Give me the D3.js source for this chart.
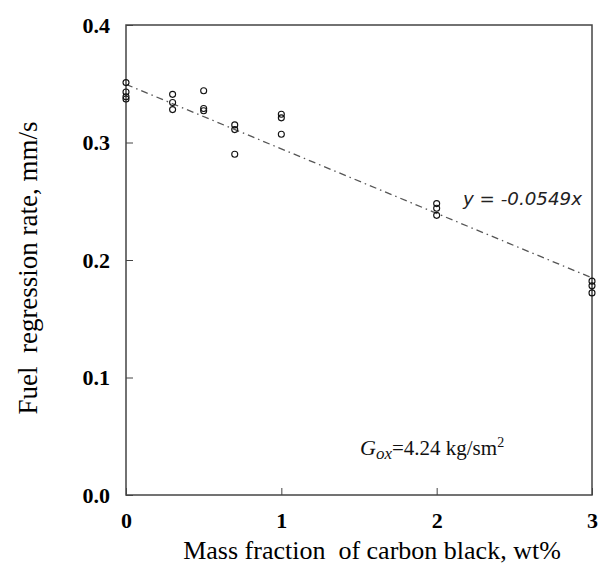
<!DOCTYPE html>
<html>
<head>
<meta charset="utf-8">
<script src="https://cdn.jsdelivr.net/npm/d3@7"></script>
<style>
  body { margin: 0; background: #fff; }
  svg { display: block; }
</style>
</head>
<body>
<div id="chart"></div>
<script>
var massFraction = [0, 0, 0, 0, 0.3, 0.3, 0.3, 0.5, 0.5, 0.5, 0.7, 0.7, 0.7, 1, 1, 1, 2, 2, 2, 3, 3, 3];
var regressionRate = [0.351, 0.343, 0.339, 0.337, 0.341, 0.334, 0.328, 0.344, 0.329, 0.327,
  0.315, 0.311, 0.290, 0.324, 0.321, 0.307, 0.248, 0.244, 0.238, 0.182, 0.178, 0.172];
var xTicks = [0, 1, 2, 3];
var yTicks = [0, 0.1, 0.2, 0.3, 0.4];
var fitX = [0, 3];
var fitSlope = -0.0549;
var fitIntercept = 0.3495;

var width = 600;
var height = 570;
var margin = { top: 25, right: 8, bottom: 75, left: 126 };
var serif = "'Liberation Serif', 'Times New Roman', serif";

var x = d3.scaleLinear().domain([0, 3]).range([margin.left, width - margin.right]);
var y = d3.scaleLinear().domain([0, 0.4]).range([height - margin.bottom, margin.top]);

var svg = d3
  .select("#chart")
  .append("svg")
  .attr("width", width)
  .attr("height", height);

// frame
svg.append("rect")
  .attr("x", x(0))
  .attr("y", y(0.4))
  .attr("width", x(3) - x(0))
  .attr("height", y(0) - y(0.4))
  .attr("fill", "none")
  .attr("stroke", "#444")
  .attr("stroke-width", 1.5);

// axes with inward ticks
var xAxis = d3.axisBottom(x).tickValues(xTicks).tickSize(-7).tickFormat(d3.format("d"));
var yAxis = d3.axisLeft(y).tickValues(yTicks).tickSize(-7).tickFormat(d3.format(".1f"));

var gx = svg.append("g")
  .attr("transform", "translate(0," + y(0) + ")")
  .call(xAxis);
var gy = svg.append("g")
  .attr("transform", "translate(" + x(0) + ",0)")
  .call(yAxis);

[gx, gy].forEach(function (g) {
  g.select(".domain").remove();
  g.selectAll(".tick line").attr("stroke", "#444").attr("stroke-width", 1);
  g.selectAll(".tick text")
    .attr("font-family", serif)
    .attr("font-weight", "bold")
    .attr("font-size", 22)
    .attr("fill", "#000");
});
gx.selectAll(".tick text").attr("y", 33).attr("dy", 0);
gy.selectAll(".tick text").attr("x", -16).attr("dy", "0.34em");

// fit line
var fitLine = d3.line()
  .x(function (d) { return x(d); })
  .y(function (d) { return y(fitSlope * d + fitIntercept); });

svg.append("path")
  .datum(fitX)
  .attr("d", fitLine)
  .attr("fill", "none")
  .attr("stroke", "#555")
  .attr("stroke-width", 1.3)
  .attr("stroke-dasharray", "7,4,1.5,4");

// points
svg.selectAll(".pt")
  .data(massFraction)
  .enter()
  .append("circle")
  .attr("class", "pt")
  .attr("cx", function (d) { return x(d); })
  .attr("cy", function (d, i) { return y(regressionRate[i]); })
  .attr("r", 3)
  .attr("fill", "none")
  .attr("stroke", "#111")
  .attr("stroke-width", 1.1);

// equation
svg.append("text")
  .attr("x", 463)
  .attr("y", 205)
  .attr("font-family", "'DejaVu Sans', sans-serif")
  .attr("font-style", "italic")
  .attr("font-size", 18)
  .attr("textLength", 119)
  .attr("lengthAdjust", "spacingAndGlyphs")
  .attr("fill", "#222")
  .text("y = -0.0549x");

var gox = svg.append("text")
  .attr("x", 360)
  .attr("y", 455)
  .attr("font-family", serif)
  .attr("font-size", 21)
  .attr("fill", "#111");
gox.append("tspan").attr("font-style", "italic").attr("font-size", 22).text("G");
gox.append("tspan").attr("font-style", "italic").attr("font-size", 17).attr("dy", 4).text("ox");
gox.append("tspan").attr("dy", -4).text("=4.24 kg/sm");
gox.append("tspan").attr("font-size", 14).attr("dy", -8).text("2");

// axis titles
svg.append("text")
  .attr("x", 372)
  .attr("y", 559)
  .attr("text-anchor", "middle")
  .attr("font-family", serif)
  .attr("font-size", 26)
  .style("white-space", "pre")
  .attr("fill", "#000")
  .text("Mass fraction  of carbon black, wt%");

svg.append("text")
  .attr("transform", "translate(37,268) rotate(-90)")
  .attr("text-anchor", "middle")
  .attr("font-family", serif)
  .attr("font-size", 27)
  .style("white-space", "pre")
  .attr("fill", "#000")
  .text("Fuel  regression rate, mm/s");
</script>
</body>
</html>
